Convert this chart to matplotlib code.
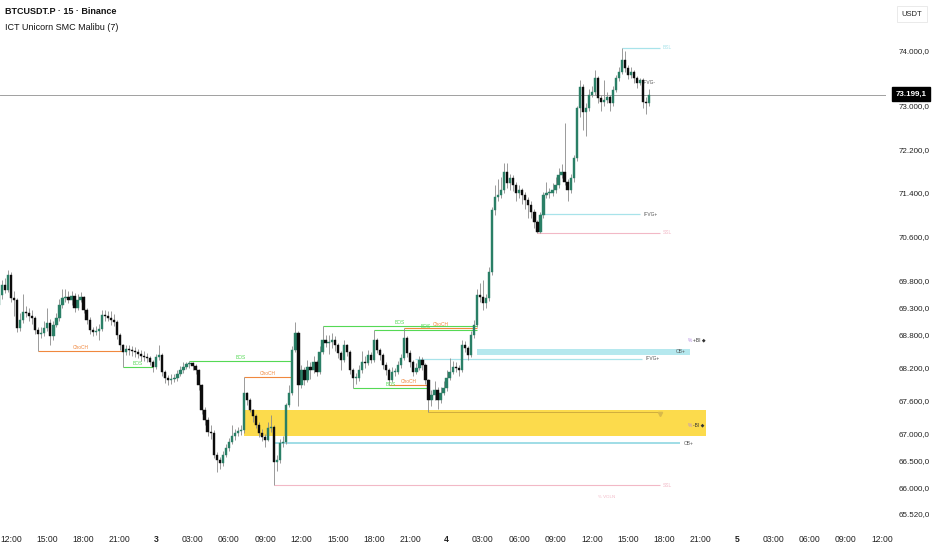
import numpy as np
import matplotlib
matplotlib.use("Agg")
import matplotlib.pyplot as plt
from matplotlib.patches import Rectangle

plt.rcParams['font.family'] = ['Liberation Sans', 'DejaVu Sans']

# 15m candles, first one at day 2 11:00 (hour -1 counted from day 2 12:00)
first_open = 69350
closes = [
    69531, 69714, 69623, 69897, 69476, 69440, 68927, 69073, 69220, 69201,
    69146, 69110, 68890, 68817, 68835, 68927, 69018, 68780, 68982, 69110,
    69348, 69476, 69494, 69440, 69513, 69293, 69440, 69494, 69256, 69073,
    68890, 68853, 68872, 68908, 69165, 69146, 69110, 69073, 69037, 68798,
    68615, 68487, 68542, 68524, 68505, 68487, 68450, 68414, 68396, 68377,
    68304, 68212, 68396, 68432, 68121, 68011, 67974, 67993, 68011, 68084,
    68157, 68212, 68267, 68286, 68231, 68157, 67883, 67425, 67242, 67022,
    67004, 66601, 66509, 66454, 66601, 66729, 66839, 66949, 67004, 67040,
    67058, 67736, 67608, 67425, 67315, 67150, 67004, 66930, 66875, 67095,
    67113, 66472, 66509, 66820, 66839, 67516, 67736, 68524, 68835, 67883,
    68157, 67974, 68212, 68157, 68304, 68121, 68487, 68707, 68652, 68670,
    68707, 68615, 68469, 68341, 68615, 68487, 68157, 68011, 68011, 68157,
    68304, 68286, 68432, 68341, 68707, 68524, 68432, 68249, 68157, 67974,
    68121, 68121, 68249, 68377, 68744, 68469, 68304, 68121, 68194, 68341,
    68249, 67974, 67608, 67700, 67791, 67608, 67736, 67828, 68011, 68121,
    68212, 68194, 68157, 68615, 68560, 68432, 68798, 68982, 69531, 69494,
    69385, 69476, 69952, 71088, 71326, 71363, 71454, 71784, 71582, 71674,
    71546, 71399, 71454, 71363, 71271, 71179, 71051, 70868, 70685, 70996,
    71363, 71399, 71399, 71454, 71546, 71729, 71784, 71601, 71454, 71674,
    72040, 72956, 73341, 72883, 72956, 73194, 73249, 73505, 73139, 73066,
    73103, 73157, 73048, 73286, 73505, 73615, 73835, 73689, 73560, 73615,
    73505, 73414, 73469, 73066, 73048, 73199.1,
]
highs = [
    69650, 69800, 69850, 69990, 69950, 69600, 69480, 69200, 69550, 69330,
    69300, 69250, 69150, 68950, 68950, 69050, 69300, 69100, 69050, 69200,
    69450, 69650, 69650, 69600, 69600, 69560, 69550, 69590, 69520, 69300,
    69120, 68950, 68960, 69000, 69250, 69250, 69230, 69240, 69180, 69080,
    68840, 68640, 68620, 68620, 68600, 68580, 68550, 68520, 68500, 68460,
    68420, 68340, 68450, 68615, 68470, 68160, 68060, 68080, 68090, 68150,
    68240, 68300, 68310, 68320, 68300, 68260, 68180, 67900, 67480, 67300,
    67150, 67050, 66650, 66560, 66680, 66800, 66920, 67150, 67080, 67110,
    67150, 68030, 67760, 67650, 67450, 67350, 67200, 67080, 66980, 67200,
    67330, 67150, 66600, 66900, 66950, 67560, 67880, 68600, 69037, 68870,
    68250, 68220, 68350, 68300, 68420, 68350, 68600, 68960, 68800, 68800,
    68830, 68780, 68650, 68500, 68700, 68640, 68520, 68200, 68100, 68250,
    68500, 68420, 68520, 68480, 68890, 68740, 68560, 68470, 68300, 68200,
    68220, 68200, 68320, 68450, 68930, 68780, 68520, 68350, 68280, 68420,
    68400, 68280, 68000, 67800, 67950, 67850, 67850, 67950, 68150, 68380,
    68320, 68300, 68250, 68700, 68680, 68600, 68870, 69073, 69650, 69750,
    69800, 69550, 70050, 71150, 71550, 71650, 71700, 71950, 71950, 71750,
    71720, 71600, 71550, 71500, 71420, 71320, 71250, 71100, 70900, 71050,
    71420, 71600, 71500, 71580, 71700, 71850, 71930, 72680, 71650, 71750,
    72100, 73000, 73470, 73400, 73050, 73300, 73350, 73650, 73550, 73200,
    73470, 73250, 73200, 73350, 73560, 73700, 74055, 74000, 73750, 73700,
    73650, 73550, 73500, 73500, 73150, 73300,
]
lows = [
    69300, 69450, 69560, 69580, 69400, 69150, 68850, 68880, 69020, 69120,
    69050, 69000, 68820, 68513, 68750, 68780, 68880, 68620, 68700, 68950,
    69050, 69300, 69400, 69380, 69350, 69220, 69250, 69400, 69200, 69000,
    68820, 68780, 68790, 68700, 68880, 69060, 69050, 68990, 68960, 68720,
    68530, 68212, 68430, 68440, 68420, 68400, 68380, 68330, 68330, 68300,
    68250, 68121, 68180, 68350, 68050, 67920, 67880, 67900, 67930, 67960,
    68040, 68110, 68180, 68200, 68160, 68080, 67800, 67350, 67150, 66940,
    66900, 66540, 66290, 66350, 66400, 66560, 66680, 66800, 66880, 66950,
    66970, 67000, 67520, 67380, 67200, 67100, 66930, 66850, 66750, 66850,
    67020, 66051, 66300, 66460, 66750, 66800, 67480, 67700, 68480, 67500,
    67820, 67880, 67930, 68000, 68100, 68050, 68080, 68450, 68580, 68450,
    68560, 68500, 68380, 68150, 68300, 68420, 68080, 67828, 67900, 67960,
    68100, 68200, 68250, 68280, 68300, 68460, 68350, 68180, 68060, 67883,
    67940, 68050, 68080, 68200, 68350, 68400, 68220, 68050, 68080, 68150,
    68150, 67900, 67388, 67500, 67600, 67440, 67550, 67700, 67780, 67980,
    68080, 68120, 68050, 68120, 68480, 68350, 68400, 68750, 68950, 69400,
    69250, 69300, 69420, 69900, 71000, 71250, 71300, 71400, 71500, 71450,
    71430, 71250, 71300, 71200, 71100, 70950, 70950, 70750, 70667, 70675,
    70950, 71300, 71300, 71350, 71400, 71500, 71680, 71550, 71250, 71400,
    71600, 71980, 72800, 72550, 72450, 72900, 73150, 73200, 73050, 72900,
    73000, 73050, 72900, 73000, 73250, 73450, 73580, 73620, 73480, 73500,
    73420, 73330, 73380, 72950, 72850, 73000,
]

# structure levels: (price, start candle, end candle, label)
bos_levels = [(68212, 41, 51, 'BOS'), (68320, 63, 97, 'BOS'), (68960, 107, 158, 'BOS'),
              (68890, 124, 158, 'BOS'), (67828, 117, 142, 'BOS')]
choch_levels = [(68513, 13, 41, 'ChoCH'), (68030, 81, 97, 'ChoCH'), (68930, 134, 158, 'ChoCH'),
                (67883, 129, 142, 'ChoCH')]
fvg_box = (66957, 67434, 81, 233.7)
ob_box = (68440, 68540, 158, 228.4)
ifvg_lines = [(68360, 137.5, 212.5), (71014, 178.8, 211.9)]
ob_line = (66820, 91, 225)
ssl_lines = [(66051, 91, 218.5), (70667, 178, 218.5)]
bsl_line = (74055, 206, 218.5)
fvg_mid = (67388, 142, 218.5)
last_price = 73199.1

price_ticks = [74000, 73000, 72200, 71400, 70600, 69800, 69300, 68800, 68200,
               67600, 67000, 66500, 66000, 65520]


def cx(i):
    # candle index -> hours from day 2 12:00
    return -1 + 0.25 * np.asarray(i)


opens = [first_open] + closes[:-1]
n = len(closes)
t = cx(np.arange(n))
o = np.array(opens, float)
c = np.array(closes, float)
up = c >= o

UP, DOWN, WICK = '#2a7f66', '#0c0c0c', '#8a8a8a'
GREEN, ORANGE, CYAN, PINK = '#55d955', '#f0883e', '#a8e3ea', '#f2b8c6'

fig = plt.figure(figsize=(9.32, 5.5), dpi=100)
ax = fig.add_axes([0, 25 / 550, 886 / 932, 525 / 550])

ax.add_patch(Rectangle((cx(fvg_box[2]), fvg_box[0]), cx(fvg_box[3]) - cx(fvg_box[2]),
                       fvg_box[1] - fvg_box[0], color='#fcdb4c', lw=0, zorder=1))
ax.add_patch(Rectangle((cx(ob_box[2]), ob_box[0]), cx(ob_box[3]) - cx(ob_box[2]),
                       ob_box[1] - ob_box[0], color='#b5e8ee', lw=0, zorder=1))
ax.hlines(fvg_mid[0], cx(fvg_mid[1]), cx(fvg_mid[2]), color='#c9a63c', lw=0.6, zorder=2)
ax.plot(cx(fvg_mid[2]), fvg_mid[0] - 30, marker='v', color='#d9b94a', ms=3, zorder=2)

ax.axhline(last_price, color='#a0a0a0', lw=0.7, zorder=1)

for price, a, b, lab in bos_levels:
    ax.hlines(price, cx(a), cx(b), color=GREEN, lw=0.8, zorder=2)
    ax.text((cx(a) + cx(b)) / 2, price + 20, lab, color=GREEN, fontsize=3.5,
            ha='center', va='bottom', zorder=4)
for price, a, b, lab in choch_levels:
    ax.hlines(price, cx(a), cx(b), color=ORANGE, lw=0.8, zorder=2)
    ax.text((cx(a) + cx(b)) / 2, price + 20, lab, color=ORANGE, fontsize=3.5,
            ha='center', va='bottom', zorder=4)
for price, a, b in ifvg_lines:
    ax.hlines(price, cx(a), cx(b), color=CYAN, lw=0.9, zorder=2)
    ax.text(cx(b + 1.2), price, 'IFVG+', color='#555555', fontsize=3.5, va='center')
ax.hlines(ob_line[0], cx(ob_line[1]), cx(ob_line[2]), color='#9fdde6', lw=1.4, zorder=2)
ax.text(cx(ob_line[2] + 1.5), ob_line[0], 'OB+', color='#555555', fontsize=3.5, va='center')
ax.text(cx(ob_box[3] - 1.5), (ob_box[0] + ob_box[1]) / 2, 'OB+', color='#555555',
        fontsize=3.5, va='center', ha='right')
for price, a, b in ssl_lines:
    ax.hlines(price, cx(a), cx(b), color=PINK, lw=0.8, zorder=2)
    ax.text(cx(b + 0.8), price, 'SSL', color=PINK, fontsize=3.5, va='center')
ax.hlines(bsl_line[0], cx(bsl_line[1]), cx(bsl_line[2]), color=CYAN, lw=0.9, zorder=2)
ax.text(cx(bsl_line[2] + 0.8), bsl_line[0], 'BSL', color=CYAN, fontsize=3.5, va='center')
ax.text(cx(212.9), 73414, 'IFVG-', color='#555555', fontsize=3.5, va='center')
ax.text(cx(227.8), 68700, '%', color='#b58be0', fontsize=3.5, va='center')
ax.text(cx(229.3), 68700, '+BI ◆', color='#333333', fontsize=3.5, va='center')
ax.text(cx(227.8), 67150, '%', color='#b58be0', fontsize=3.5, va='center')
ax.text(cx(229.3), 67150, '-BI ◆', color='#333333', fontsize=3.5, va='center')
ax.text(cx(198), 65831, '% VOLN', color=PINK, fontsize=3.2, va='center')

# candles
ax.vlines(t, lows, highs, color=WICK, lw=0.6, zorder=3)
body = np.abs(c - o)
body = np.where(body < 12, 12, body)
ax.bar(t[up], body[up], bottom=np.minimum(o, c)[up], width=0.19, color=UP,
       edgecolor=UP, lw=0.3, zorder=4)
ax.bar(t[~up], body[~up], bottom=np.minimum(o, c)[~up], width=0.19, color=DOWN,
       edgecolor=DOWN, lw=0.3, zorder=4)

ax.set_xlim(-0.909, 72.31)
ax.set_ylim(65319, 74934)
for s in ax.spines.values():
    s.set_visible(False)

hours = list(range(0, 73, 3))
xlabels = []
for h in hours:
    hod = (12 + h) % 24
    xlabels.append(str(2 + (12 + h) // 24) if hod == 0 else f'{hod:02d}:00')
ax.set_xticks(hours)
ax.set_xticklabels(xlabels, fontsize=6.2, color='#222222')
for lab, h in zip(ax.get_xticklabels(), hours):
    if (12 + h) % 24 == 0:
        lab.set_fontweight('bold')
ax.tick_params(axis='x', length=0, pad=7)

ax.yaxis.tick_right()
ax.set_yticks(price_ticks)
ax.set_yticklabels([f'{v:,.1f}'.replace(',', ' ').replace('.', ',').replace(' ', '.')
                    for v in price_ticks], fontsize=5.8, color='#222222')
ax.tick_params(axis='y', length=0, pad=9)

fig.text(911 / 932, 1 - 94 / 550, '73.199,1', color='white', fontsize=5.8, weight='bold',
         ha='center', va='center',
         bbox=dict(boxstyle='square,pad=0.45', fc='black', ec='black'))
fig.text(912 / 932, 1 - 14 / 550, 'USDT', color='#222222', fontsize=5.5, ha='center',
         va='center', bbox=dict(boxstyle='square,pad=0.6', fc='white', ec='#e6e6e6', lw=0.6))
fig.text(5 / 932, 1 - 11 / 550, 'BTCUSDT.P · 15 · Binance', fontsize=6.5, weight='bold',
         color='#131313', va='center')
fig.text(5 / 932, 1 - 27 / 550, 'ICT Unicorn SMC Malibu (7)', fontsize=6.5,
         color='#131313', va='center')

fig.savefig('out.png', dpi=100, facecolor='white')
